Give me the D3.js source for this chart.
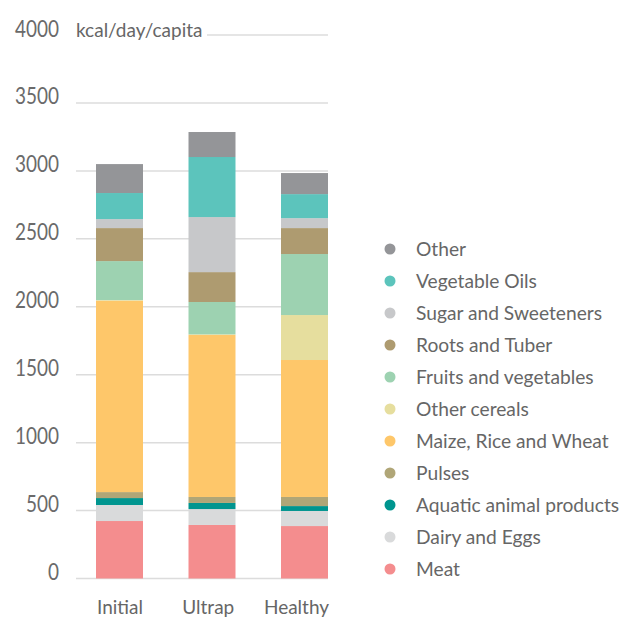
<!DOCTYPE html>
<html>
<head>
<meta charset="utf-8">
<script src="https://cdn.jsdelivr.net/npm/d3@7"></script>
<style>
  html, body { margin: 0; padding: 0; background: #fff; }
  svg { display: block; }
  .lbl { font-family: Lato, "Open Sans", sans-serif; }
</style>
</head>
<body>
<svg id="chart" width="627" height="618"></svg>
<script>
// Diet scenarios along the x axis
const scenarios = ["Initial", "Ultrap", "Healthy"];

// Food groups, stacked bottom to top
const groups = [
  "Meat", "Dairy and Eggs", "Aquatic animal products", "Pulses",
  "Maize, Rice and Wheat", "Other cereals", "Fruits and vegetables",
  "Roots and Tuber", "Sugar and Sweeteners", "Vegetable Oils", "Other"
];

const groupColors = [
  "#f48d8e", "#d9dadb", "#00958f", "#b0a677",
  "#fec76a", "#e6de9e", "#9dd2b1",
  "#ae9b70", "#c7c8ca", "#5cc4bc", "#949598"
];

// kcal/day/capita per food group, one array per group (Initial, Ultrap, Healthy)
const meat        = [423, 394, 386];
const dairyEggs   = [118, 117, 111];
const aquatic     = [51, 45, 36];
const pulses      = [44, 44, 67];
const maizeRice   = [1409, 1192, 1008];
const otherCereal = [4, 5, 331];
const fruitsVeg   = [287, 238, 449];
const rootsTuber  = [243, 220, 191];
const sugar       = [66, 405, 73];
const vegOils     = [192, 442, 177];
const other       = [213, 184, 155];

const yTicks = [0, 500, 1000, 1500, 2000, 2500, 3000, 3500, 4000];
const unitLabel = "kcal/day/capita";

const seriesValues = [meat, dairyEggs, aquatic, pulses, maizeRice, otherCereal,
                      fruitsVeg, rootsTuber, sugar, vegOils, other];

const rows = scenarios.map((s, i) => {
  const r = { scenario: s };
  groups.forEach((g, k) => { r[g] = seriesValues[k][i]; });
  return r;
});

const svg = d3.select("#chart");

const y = d3.scaleLinear().domain([0, 4000]).range([578.5, 35]);
const x = d3.scaleBand().domain(scenarios).range([96, 328])
  .paddingInner(0.492).paddingOuter(0);
// Category captions sit on a slightly tighter spacing than the bars
const xLabel = d3.scalePoint().domain(scenarios).range([120, 296.5]);
const color = d3.scaleOrdinal().domain(groups).range(groupColors);

// Horizontal gridlines
const gridLeft = 76, gridRight = 328;
svg.append("g").selectAll("line").data(yTicks).join("line")
  .attr("x1", d => d === 4000 ? 207 : gridLeft)
  .attr("x2", gridRight)
  .attr("y1", d => y(d)).attr("y2", d => y(d))
  .attr("stroke", "#dcdcdc").attr("stroke-width", 1.5);

// Y tick labels, horizontally condensed
svg.append("g").selectAll("text").data(yTicks).join("text")
  .attr("class", "lbl")
  .attr("transform", d => `translate(59, ${y(d) + 1.5}) scale(0.79, 1)`)
  .attr("text-anchor", "end")
  .attr("font-size", 24)
  .attr("fill", "#6a6a6a")
  .text(d => d);

// Unit label next to the top tick
svg.append("text").attr("class", "lbl")
  .attr("x", 76).attr("y", 36.5)
  .attr("font-size", 19).attr("fill", "#666")
  .text(unitLabel);

// Stacked bars
const stack = d3.stack().keys(groups);
const layers = stack(rows);

svg.append("g").selectAll("g").data(layers).join("g")
  .attr("fill", d => color(d.key))
  .selectAll("rect").data(d => d).join("rect")
  .attr("x", d => x(d.data.scenario))
  .attr("width", x.bandwidth())
  .attr("y", d => y(d[1]))
  .attr("height", d => y(d[0]) - y(d[1]));

// Category labels
svg.append("g").selectAll("text").data(scenarios).join("text")
  .attr("class", "lbl")
  .attr("x", d => xLabel(d))
  .attr("y", 614)
  .attr("text-anchor", "middle")
  .attr("font-size", 19).attr("fill", "#666")
  .text(d => d);

// Legend, top entry is the top of the stack
const legendItems = groups.slice().reverse();
const lg = svg.append("g").selectAll("g").data(legendItems).join("g")
  .attr("transform", (d, i) => `translate(390, ${249 + i * 32})`);
lg.append("circle").attr("r", 5.5).attr("fill", d => color(d));
lg.append("text").attr("class", "lbl")
  .attr("x", 26).attr("y", 6.5)
  .attr("font-size", 19.2).attr("fill", "#666")
  .text(d => d);
</script>
</body>
</html>
